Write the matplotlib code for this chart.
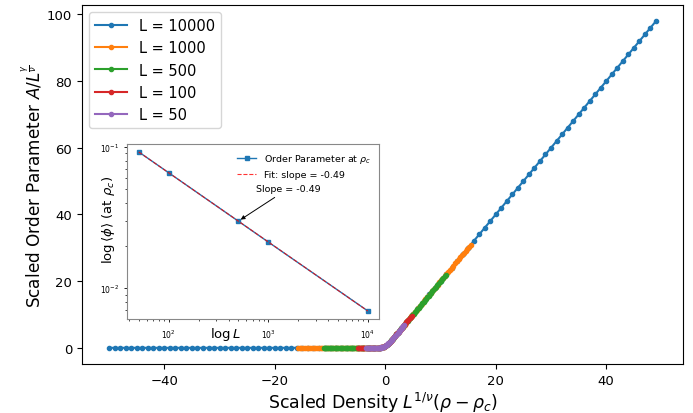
import matplotlib
matplotlib.use("Agg")
import matplotlib.pyplot as plt
import numpy as np

# ---------------- data ----------------
labels = ["L = 10000", "L = 1000", "L = 500", "L = 100", "L = 50"]

x_L10000 = [-50, -49, -48, -47, -46, -45, -44, -43, -42, -41, -40, -39, -38, -37, -36, -35, -34, -33, -32, -31,
            -30, -29, -28, -27, -26, -25, -24, -23, -22, -21, -20, -19, -18, -17, -16, -15, -14, -13, -12, -11,
            -10, -9, -8, -7, -6, -5, -4, -3, -2, -1, 0, 1, 2, 3, 4, 5, 6, 7, 8, 9,
            10, 11, 12, 13, 14, 15, 16, 17, 18, 19, 20, 21, 22, 23, 24, 25, 26, 27, 28, 29,
            30, 31, 32, 33, 34, 35, 36, 37, 38, 39, 40, 41, 42, 43, 44, 45, 46, 47, 48, 49]
y_L10000 = [0, 0, 0, 0, 0, 0, 0, 0, 0, 0, 0, 0, 0, 0, 0, 0, 0, 0, 0, 0,
            0, 0, 0, 0, 0, 0, 0, 0, 0, 0, 0, 0, 0, 0, 0, 0, 0, 0, 0, 0,
            0, 0, 0, 0, 0, 0, 0, 0, 0, 0.06, 0.55, 2.06, 4, 6, 8, 10, 12, 14, 16, 18,
            20, 22, 24, 26, 28, 30, 32, 34, 36, 38, 40, 42, 44, 46, 48, 50, 52, 54, 56, 58,
            60, 62, 64, 66, 68, 70, 72, 74, 76, 78, 80, 82, 84, 86, 88, 90, 92, 94, 96, 98]

x_L1000 = [-15.81, -15.50, -15.18, -14.86, -14.55, -14.23, -13.91, -13.60, -13.28, -12.97,
           -12.65, -12.33, -12.02, -11.70, -11.38, -11.07, -10.75, -10.44, -10.12, -9.80,
           -9.49, -9.17, -8.85, -8.54, -8.22, -7.91, -7.59, -7.27, -6.96, -6.64,
           -6.32, -6.01, -5.69, -5.38, -5.06, -4.74, -4.43, -4.11, -3.79, -3.48,
           -3.16, -2.85, -2.53, -2.21, -1.90, -1.58, -1.26, -0.95, -0.63, -0.32,
           0.00, 0.32, 0.63, 0.95, 1.26, 1.58, 1.90, 2.21, 2.53, 2.85,
           3.16, 3.48, 3.79, 4.11, 4.43, 4.74, 5.06, 5.38, 5.69, 6.01,
           6.32, 6.64, 6.96, 7.27, 7.59, 7.91, 8.22, 8.54, 8.85, 9.17,
           9.49, 9.80, 10.12, 10.44, 10.75, 11.07, 11.38, 11.70, 12.02, 12.33,
           12.65, 12.97, 13.28, 13.60, 13.91, 14.23, 14.55, 14.86, 15.18, 15.50]
y_L1000 = [0, 0, 0, 0, 0, 0, 0, 0, 0, 0,
           0, 0, 0, 0, 0, 0, 0, 0, 0, 0,
           0, 0, 0, 0, 0, 0, 0, 0, 0, 0,
           0, 0, 0, 0, 0, 0, 0, 0, 0, 0,
           0, 0, 0, 0, 0, 0, 0.03, 0.07, 0.15, 0.30,
           0.55, 0.93, 1.41, 1.97, 2.55, 3.17, 3.79, 4.43, 5.06, 5.69,
           6.32, 6.96, 7.59, 8.22, 8.85, 9.49, 10.12, 10.75, 11.38, 12.02,
           12.65, 13.28, 13.91, 14.55, 15.18, 15.81, 16.44, 17.08, 17.71, 18.34,
           18.97, 19.61, 20.24, 20.87, 21.50, 22.14, 22.77, 23.40, 24.03, 24.67,
           25.30, 25.93, 26.56, 27.20, 27.83, 28.46, 29.09, 29.73, 30.36, 30.99]

x_L500 = [-11.18, -10.96, -10.73, -10.51, -10.29, -10.06, -9.84, -9.62, -9.39, -9.17,
          -8.94, -8.72, -8.50, -8.27, -8.05, -7.83, -7.60, -7.38, -7.16, -6.93,
          -6.71, -6.48, -6.26, -6.04, -5.81, -5.59, -5.37, -5.14, -4.92, -4.70,
          -4.47, -4.25, -4.02, -3.80, -3.58, -3.35, -3.13, -2.91, -2.68, -2.46,
          -2.24, -2.01, -1.79, -1.57, -1.34, -1.12, -0.89, -0.67, -0.45, -0.22,
          0.00, 0.22, 0.45, 0.67, 0.89, 1.12, 1.34, 1.57, 1.79, 2.01,
          2.24, 2.46, 2.68, 2.91, 3.13, 3.35, 3.58, 3.80, 4.02, 4.25,
          4.47, 4.70, 4.92, 5.14, 5.37, 5.59, 5.81, 6.04, 6.26, 6.48,
          6.71, 6.93, 7.16, 7.38, 7.60, 7.83, 8.05, 8.27, 8.50, 8.72,
          8.94, 9.17, 9.39, 9.62, 9.84, 10.06, 10.29, 10.51, 10.73, 10.96]
y_L500 = [0, 0, 0, 0, 0, 0, 0, 0, 0, 0,
          0, 0, 0, 0, 0, 0, 0, 0, 0, 0,
          0, 0, 0, 0, 0, 0, 0, 0, 0, 0,
          0, 0, 0, 0, 0, 0, 0, 0, 0, 0,
          0, 0, 0, 0.02, 0.03, 0.05, 0.08, 0.14, 0.23, 0.36,
          0.55, 0.80, 1.12, 1.48, 1.86, 2.29, 2.71, 3.15, 3.58, 4.02,
          4.47, 4.92, 5.37, 5.81, 6.26, 6.71, 7.16, 7.60, 8.05, 8.50,
          8.94, 9.39, 9.84, 10.29, 10.73, 11.18, 11.63, 12.07, 12.52, 12.97,
          13.42, 13.86, 14.31, 14.76, 15.21, 15.65, 16.10, 16.55, 17.00, 17.44,
          17.89, 18.34, 18.78, 19.23, 19.68, 20.12, 20.57, 21.02, 21.47, 21.91]

x_L100 = [-5.0, -4.8, -4.6, -4.4, -4.2, -4.0, -3.8, -3.6, -3.4, -3.2,
          -3.0, -2.8, -2.6, -2.4, -2.2, -2.0, -1.8, -1.6, -1.4, -1.2,
          -1.0, -0.8, -0.6, -0.4, -0.2, 0.0, 0.2, 0.4, 0.6, 0.8,
          1.0, 1.2, 1.4, 1.6, 1.8, 2.0, 2.2, 2.4, 2.6, 2.8,
          3.0, 3.2, 3.4, 3.6, 3.8, 4.0, 4.2, 4.4, 4.6, 4.8]
y_L100 = [0, 0, 0, 0, 0, 0, 0, 0, 0, 0,
          0, 0, 0, 0, 0, 0, 0, 0.02, 0.02, 0.04,
          0.06, 0.10, 0.16, 0.25, 0.38, 0.55, 0.78, 1.05, 1.36, 1.70,
          2.06, 2.44, 2.82, 3.21, 3.61, 4.0, 4.4, 4.8, 5.2, 5.6,
          6.0, 6.4, 6.8, 7.2, 7.6, 8.0, 8.4, 8.8, 9.2, 9.6]

x_L50 = [-3.54, -3.39, -3.25, -3.11, -2.97, -2.83, -2.69, -2.55, -2.40, -2.26,
         -2.12, -1.98, -1.84, -1.70, -1.56, -1.41, -1.27, -1.13, -0.99, -0.85,
         -0.71, -0.57, -0.42, -0.28, -0.14, 0.00, 0.14, 0.28, 0.42, 0.57,
         0.71, 0.85, 0.99, 1.13, 1.27, 1.41, 1.56, 1.70, 1.84, 1.98,
         2.12, 2.26, 2.40, 2.55, 2.69, 2.83, 2.97, 3.11, 3.25, 3.39]
y_L50 = [0.00, 0.00, 0.00, 0.00, 0.00, 0.00, 0.00, 0.00, 0.01, 0.01,
         0.01, 0.01, 0.01, 0.01, 0.02, 0.02, 0.03, 0.05, 0.07, 0.09,
         0.13, 0.17, 0.24, 0.32, 0.43, 0.55, 0.71, 0.89, 1.09, 1.31,
         1.54, 1.79, 2.05, 2.31, 2.58, 2.86, 3.13, 3.40, 3.68, 3.96,
         4.24, 4.53, 4.81, 5.09, 5.37, 5.66, 5.94, 6.22, 6.51, 6.79]

series_x = [x_L10000, x_L1000, x_L500, x_L100, x_L50]
series_y = [y_L10000, y_L1000, y_L500, y_L100, y_L50]
colors = ["#1f77b4", "#ff7f0e", "#2ca02c", "#d62728", "#9467bd"]

# inset data
L_values = [50, 100, 500, 1000, 10000]
phi_c = [0.092, 0.0655, 0.0298, 0.0212, 0.0069]
fit_label = "Fit: slope = -0.49"
annot_text = "Slope = -0.49"

# ---------------- figure ----------------
fig = plt.figure(figsize=(6.93, 4.14), dpi=100)
ax = fig.add_axes([0.118, 0.118, 0.868, 0.868])

for xs, ys, c, lab in zip(series_x, series_y, colors, labels):
    ax.plot(xs, ys, '-o', color=c, lw=1.5, ms=3.0, label=lab)

ax.set_xticks([-40, -20, 0, 20, 40])
ax.set_yticks([0, 20, 40, 60, 80, 100])
ax.tick_params(labelsize=9.5)
ax.set_xlabel(r"Scaled Density $L^{1/\nu}(\rho - \rho_c)$", fontsize=12.5, labelpad=2)
ax.set_ylabel(r"Scaled Order Parameter $A/L^{\frac{\gamma}{\nu}}$", fontsize=12.2, labelpad=2)
ax.legend(loc="upper left", fontsize=10.5, handlelength=2.2)

# inset
axin = fig.add_axes([0.1837, 0.2271, 0.3636, 0.4227])
axin.plot(L_values, phi_c, '-s', color="#1f77b4", lw=1.0, ms=3.5,
          label=r"Order Parameter at $\rho_c$")
coef = np.polyfit(np.log10(L_values), np.log10(phi_c), 1)
fit_vals = 10 ** np.polyval(coef, np.log10(L_values))
axin.plot(L_values, fit_vals, '--', color="red", lw=0.8, alpha=0.8, label=fit_label)
axin.set_xscale("log")
axin.set_yscale("log")
axin.tick_params(labelsize=5.5, length=2.5, width=0.6)
axin.tick_params(which="minor", length=1.5, width=0.5)
axin.set_xlabel(r"$\log L$", fontsize=9.5)
axin.xaxis.set_label_coords(0.388, -0.035)
axin.set_ylabel(r"$\log\langle\phi\rangle$ (at $\rho_c$)", fontsize=9.5)
axin.yaxis.set_label_coords(-0.04, 0.571)
axin.legend(loc="upper right", fontsize=6.8, frameon=False)
axin.annotate(annot_text, xy=(L_values[2], phi_c[2]), xytext=(1585, 0.0506),
              ha="center", va="center", fontsize=6.8,
              arrowprops=dict(arrowstyle="-|>", color="black", lw=0.7, mutation_scale=6))
for s in axin.spines.values():
    s.set_color("#888888")

fig.savefig("out.png", dpi=100)
